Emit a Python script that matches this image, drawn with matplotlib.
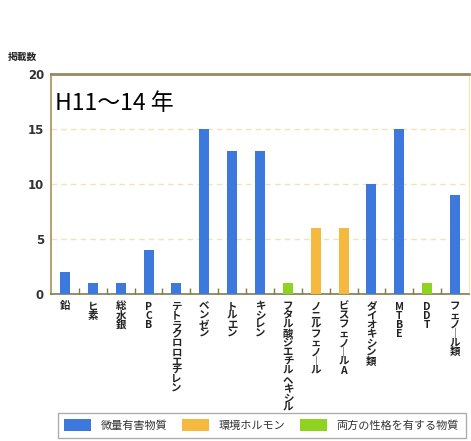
import numpy as np
import matplotlib
matplotlib.use('Agg')
import matplotlib.pyplot as plt
from matplotlib.patches import Patch

plt.rcParams['font.family'] = ['Noto Sans CJK JP', 'DejaVu Sans']

# data
substances = ['鉛', 'ヒ素', '総水銀', 'PCB', 'テトラクロロエチレン', 'ベンゼン', 'トルエン',
              'キシレン', 'フタル酸ジエチルヘキシル', 'ノニルフェノール', 'ビスフェノールA',
              'ダイオキシン類', 'MTBE', 'DDT', 'フェノール類']
toxic = [2, 1, 1, 4, 1, 15, 13, 13, 0, 0, 0, 10, 15, 0, 9]
hormone = [0, 0, 0, 0, 0, 0, 0, 0, 0, 6, 6, 0, 0, 0, 0]
both = [0, 0, 0, 0, 0, 0, 0, 0, 1, 0, 0, 0, 0, 1, 0]
series_names = ['微量有害物質', '環境ホルモン', '両方の性格を有する物質']
yticks = [0, 5, 10, 15, 20]

blue = '#3d79dc'
orange = '#f6b940'
green = '#8fd21f'

fig = plt.figure(figsize=(4.71, 4.41), dpi=100)
ax = fig.add_axes([51/471, 1-294/441, 418/471, 220/441])

x = np.arange(len(substances))
w = 0.36
ax.bar(x, toxic, width=w, color=blue, zorder=3)
ax.bar(x, hormone, width=w, color=orange, zorder=3)
ax.bar(x, both, width=w, color=green, zorder=3)

ax.set_xlim(-0.5, len(substances) - 0.5)
ax.set_ylim(0, 20)
ax.set_yticks(yticks)
ax.set_yticklabels([str(v) for v in yticks], family='DejaVu Sans', fontweight='bold',
                   fontsize=8.5, color='#333333')
for v in yticks[1:-1]:
    ax.axhline(v, color='#ebe6b4', lw=1, ls=(0, (4, 3)), zorder=1)

# vertical (tategaki) labels: one character per slot below each bar
ax.set_xticks(x)
ax.set_xticklabels([])
ax.tick_params(axis='x', which='major', length=0)
pitch = 6.6  # points between characters
for xi, name in zip(x, substances):
    for k, ch in enumerate(name.replace('ー', '｜')):
        ax.annotate(ch, xy=(xi, 0), xycoords=('data', 'axes fraction'),
                    xytext=(0, -9 - k * pitch), textcoords='offset points',
                    ha='center', va='center', fontsize=7.5, fontweight='bold',
                    color='#222222', annotation_clip=False)

ax.set_xticks(x[:-1] + 0.5, minor=True)
ax.tick_params(axis='x', which='minor', direction='in', length=4, color='#7d7d45', width=1)
ax.tick_params(axis='y', length=0, pad=5)

ax.spines['top'].set_color('#9c8660')
ax.spines['top'].set_linewidth(2)
ax.spines['left'].set_color('#b5a47a')
ax.spines['left'].set_linewidth(1.5)
ax.spines['right'].set_color('#f2ea9c')
ax.spines['bottom'].set_color('#7d7d50')
ax.spines['bottom'].set_linewidth(1.2)

ax.text(55/471, 1-103/441, 'H11～14 年', transform=fig.transFigure, fontsize=16.5,
        va='center', ha='left', color='black')
fig.text(8/471, 1-57/441, '掲載数', fontsize=7, fontweight='bold', va='center', color='#222222')

handles = [Patch(facecolor=c) for c in (blue, orange, green)]
leg = fig.legend(handles, series_names, loc='upper left', bbox_to_anchor=(52/471, 1-407/441),
                 ncol=3, fontsize=8, frameon=True, fancybox=False, edgecolor='#999999',
                 handlelength=2.4, handleheight=1.3, columnspacing=1.3, handletextpad=0.9,
                 borderpad=0.6, labelcolor='#333333')
leg.get_frame().set_linewidth(1)

fig.savefig('out.png', dpi=100, facecolor='white')
